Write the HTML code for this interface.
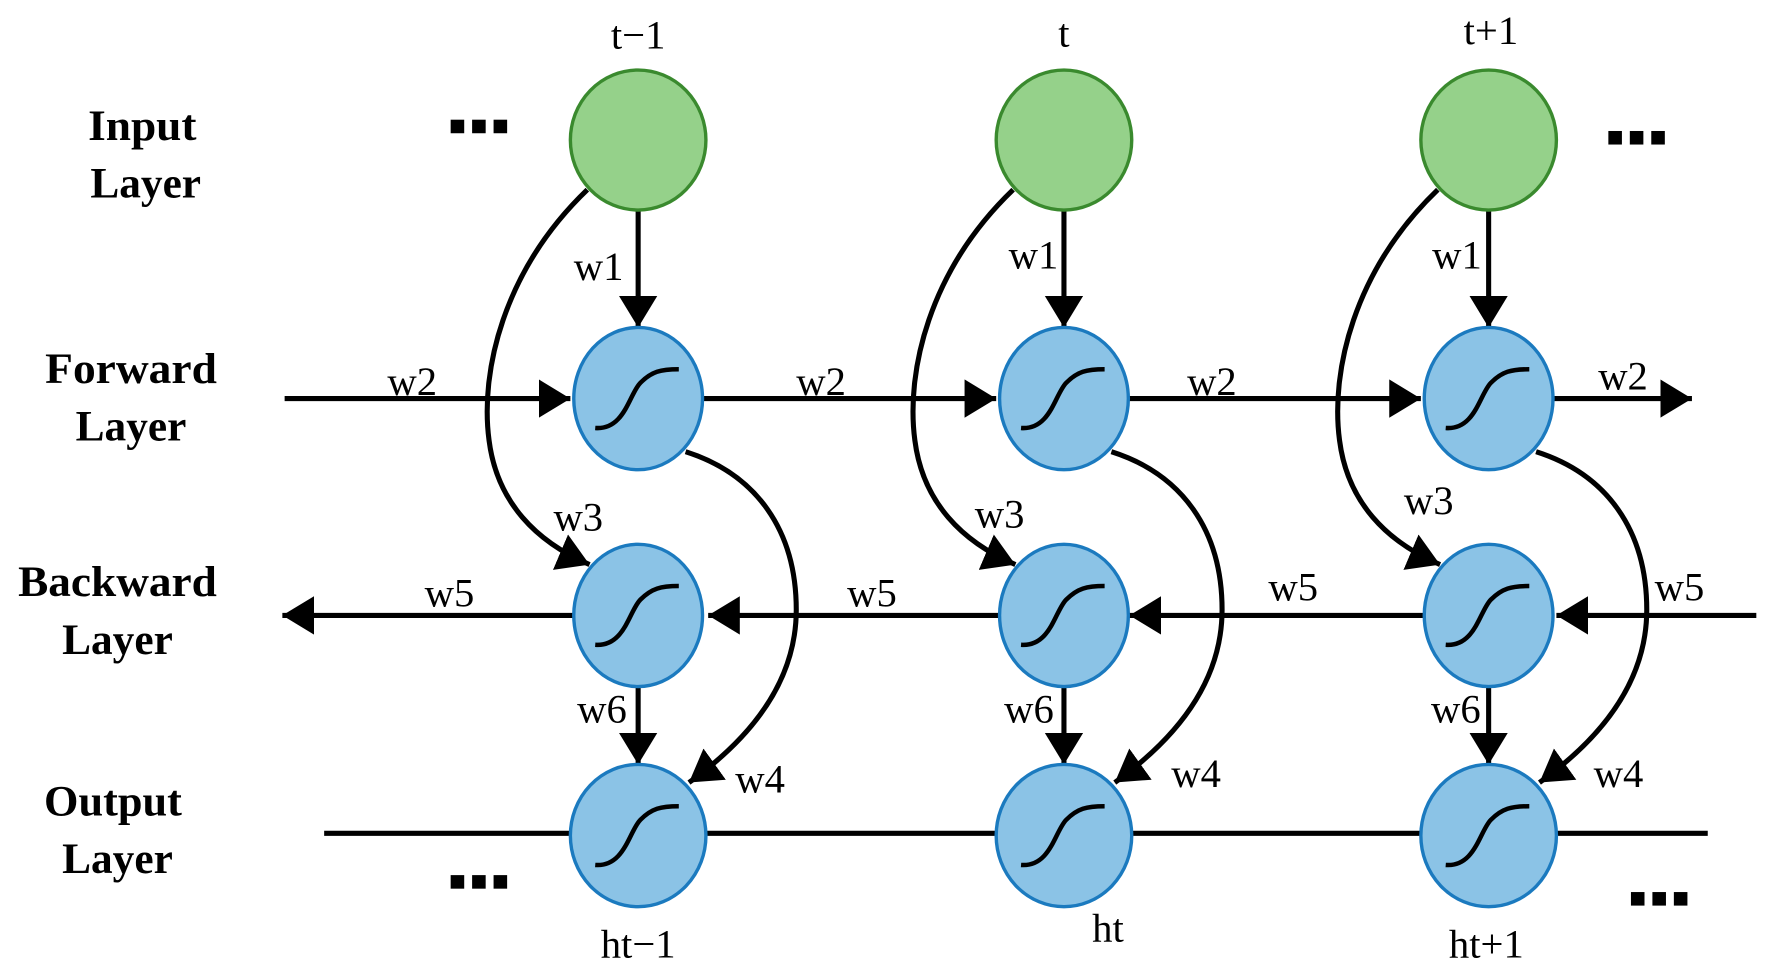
<!DOCTYPE html>
<html><head><style>html,body{margin:0;padding:0;background:#fff}svg{display:block}</style></head>
<body>
<svg width="1771" height="979" viewBox="0 0 1568 867" preserveAspectRatio="none" xmlns="http://www.w3.org/2000/svg">
<defs>
<marker id="a" markerUnits="userSpaceOnUse" markerWidth="30" markerHeight="36" refX="28" refY="17" orient="auto"><path d="M0,0 L28,17 L0,34 Z" fill="#000"/></marker>
<g id="sig"><path d="M-38,26 C-12,28 -8,-4 2,-14 C12,-24 20,-26 36,-26" fill="none" stroke="#000" stroke-width="4"/></g>
</defs>
<g stroke="#000" stroke-width="4.5" fill="none">
<line x1="252" y1="353" x2="505" y2="353" marker-end="url(#a)"/>
<line x1="622" y1="353" x2="882" y2="353" marker-end="url(#a)"/>
<line x1="999" y1="353" x2="1258" y2="353" marker-end="url(#a)"/>
<line x1="1376" y1="353" x2="1498" y2="353" marker-end="url(#a)"/>
<line x1="1555" y1="545" x2="1378" y2="545" marker-end="url(#a)"/>
<line x1="1260" y1="545" x2="1000" y2="545" marker-end="url(#a)"/>
<line x1="884" y1="545" x2="627" y2="545" marker-end="url(#a)"/>
<line x1="508" y1="545" x2="250" y2="545" marker-end="url(#a)"/>
<line x1="287" y1="738" x2="1512" y2="738"/>
</g>
<g id="col" stroke="#000" stroke-width="4.5" fill="none">
<line x1="565" y1="186" x2="565" y2="290" marker-end="url(#a)"/>
<line x1="565" y1="608" x2="565" y2="677" marker-end="url(#a)"/>
<path d="M520,168 C445,240 425,330 433,390 C440,445 475,480 522,500" marker-end="url(#a)"/>
<path d="M607,400 C670,420 705,470 705,540 C705,600 670,650 610,693" marker-end="url(#a)"/>
</g>
<use href="#col" x="377"/>
<use href="#col" x="753"/>
<g stroke="#3a8a2e" stroke-width="3" fill="#95d18a">
<ellipse cx="565" cy="124" rx="60" ry="62"/><ellipse cx="942" cy="124" rx="60" ry="62"/><ellipse cx="1318" cy="124" rx="60" ry="62"/>
</g>
<g stroke="#1b7abf" stroke-width="3" fill="#8bc3e6">
<ellipse cx="565" cy="353" rx="57" ry="63"/><ellipse cx="942" cy="353" rx="57" ry="63"/><ellipse cx="1318" cy="353" rx="57" ry="63"/>
<ellipse cx="565" cy="545" rx="57" ry="63"/><ellipse cx="942" cy="545" rx="57" ry="63"/><ellipse cx="1318" cy="545" rx="57" ry="63"/>
<ellipse cx="565" cy="740" rx="60" ry="63"/><ellipse cx="942" cy="740" rx="60" ry="63"/><ellipse cx="1318" cy="740" rx="60" ry="63"/>
</g>
<use href="#sig" x="565" y="353"/><use href="#sig" x="942" y="353"/><use href="#sig" x="1318" y="353"/>
<use href="#sig" x="565" y="545"/><use href="#sig" x="942" y="545"/><use href="#sig" x="1318" y="545"/>
<use href="#sig" x="565" y="740"/><use href="#sig" x="942" y="740"/><use href="#sig" x="1318" y="740"/>
<g fill="#000">
<rect x="399" y="106" width="12" height="12"/><rect x="418" y="106" width="12" height="12"/><rect x="437" y="106" width="12" height="12"/>
<rect x="1424" y="116" width="12" height="12"/><rect x="1443" y="116" width="12" height="12"/><rect x="1462" y="116" width="12" height="12"/>
<rect x="399" y="775" width="12" height="12"/><rect x="418" y="775" width="12" height="12"/><rect x="437" y="775" width="12" height="12"/>
<rect x="1444" y="790" width="12" height="12"/><rect x="1463" y="790" width="12" height="12"/><rect x="1482" y="790" width="12" height="12"/>
</g>
<g font-family="Liberation Serif, serif" font-weight="bold" font-size="38" text-anchor="middle" fill="#000">
<text x="126" y="124" textLength="96" lengthAdjust="spacingAndGlyphs">Input</text>
<text x="129" y="175" textLength="98" lengthAdjust="spacingAndGlyphs">Layer</text>
<text x="116" y="339" textLength="152" lengthAdjust="spacingAndGlyphs">Forward</text>
<text x="116" y="390" textLength="98" lengthAdjust="spacingAndGlyphs">Layer</text>
<text x="104" y="528" textLength="176" lengthAdjust="spacingAndGlyphs">Backward</text>
<text x="104" y="579" textLength="98" lengthAdjust="spacingAndGlyphs">Layer</text>
<text x="100" y="722" textLength="122" lengthAdjust="spacingAndGlyphs">Output</text>
<text x="104" y="773" textLength="98" lengthAdjust="spacingAndGlyphs">Layer</text>
</g>
<g font-family="Liberation Serif, serif" font-size="36" text-anchor="middle" fill="#000">
<text x="565" y="43">t−1</text><text x="942" y="41">t</text><text x="1320" y="39">t+1</text>
<text x="565" y="848">ht−1</text><text x="981" y="834">ht</text><text x="1316" y="848">ht+1</text>
<text x="530" y="248">w1</text><text x="915" y="238">w1</text><text x="1290" y="238">w1</text>
<text x="365" y="350">w2</text><text x="727" y="350">w2</text><text x="1073" y="350">w2</text><text x="1437" y="345">w2</text>
<text x="512" y="470">w3</text><text x="885" y="467">w3</text><text x="1265" y="455">w3</text>
<text x="398" y="537">w5</text><text x="772" y="537">w5</text><text x="1145" y="532">w5</text><text x="1487" y="532">w5</text>
<text x="533" y="640">w6</text><text x="911" y="640">w6</text><text x="1289" y="640">w6</text>
<text x="673" y="702">w4</text><text x="1059" y="697">w4</text><text x="1433" y="697">w4</text>
</g>
</svg>
</body></html>
